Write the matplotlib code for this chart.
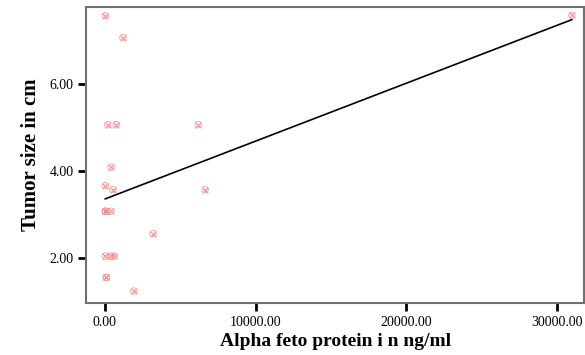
import numpy as np
import matplotlib.pyplot as plt

plt.rcParams['font.family'] = ['Liberation Serif', 'DejaVu Serif']

# alpha feto protein (ng/ml) and tumor size (cm)
afp = [20, 1190, 180, 750, 6190, 30990, 400, 20, 530, 6650,
       20, 30, 40, 400, 3180, 20, 400, 610, 80, 100, 1900]
size = [7.57, 7.07, 5.07, 5.07, 5.07, 7.58, 4.09, 3.67, 3.58, 3.58,
        3.08, 3.08, 3.08, 3.08, 2.57, 2.05, 2.05, 2.05, 1.56, 1.56, 1.25]

x_ticks = [0, 10000, 20000, 30000]
y_ticks = [2, 4, 6]

afp = np.array(afp)
size = np.array(size)

fig = plt.figure(figsize=(5.85, 3.55), dpi=100)
ax = fig.add_axes([0.147, 0.146, 0.851, 0.834])

ax.scatter(afp, size, marker='x', s=18, c='#ff8080', linewidths=0.7, zorder=3)
ax.scatter(afp, size, marker='o', s=22, facecolors='none', edgecolors='#ff9999',
           linewidths=0.6, zorder=3)

# linear fit
b, a = np.polyfit(afp, size, 1)
xs = np.array([afp.min(), afp.max()])
ax.plot(xs, a + b * xs, color='black', lw=1.2, zorder=2)

ax.set_xlim(-1260, 31790)
ax.set_ylim(0.97, 7.77)
ax.set_xticks(x_ticks)
ax.set_xticklabels(['%.2f' % v for v in x_ticks])
ax.set_yticks(y_ticks)
ax.set_yticklabels(['%.2f' % v for v in y_ticks])
ax.tick_params(direction='out', length=6, width=2, labelsize=10, pad=3)

for s in ax.spines.values():
    s.set_color('#707070')
    s.set_linewidth(1.5)

fig.text(0.573, 0.037, 'Alpha feto protein i n ng/ml', fontsize=14,
         fontweight='bold', ha='center', va='center')
ax.set_ylabel('Tumor size in cm', fontsize=15, fontweight='bold', labelpad=6)

plt.savefig('out.png', dpi=100)
